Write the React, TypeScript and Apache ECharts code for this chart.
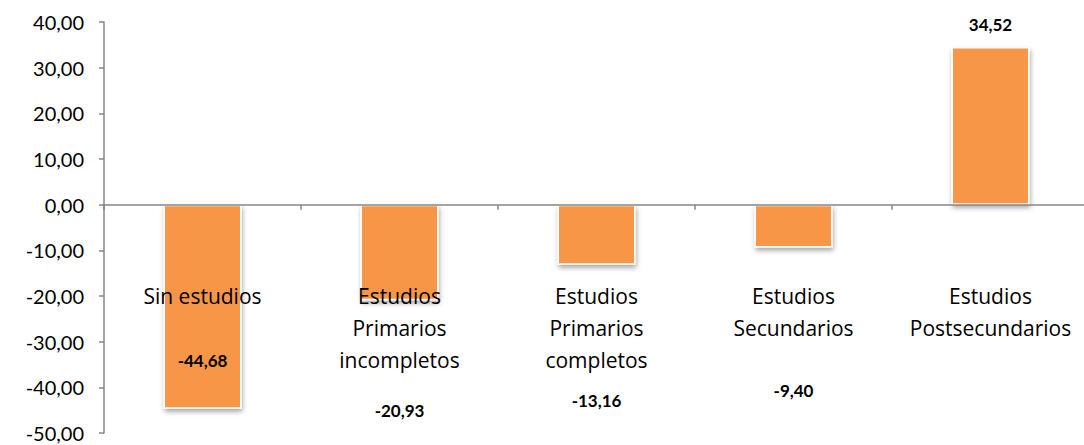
import React, { useEffect, useRef } from "react";
import * as echarts from "echarts";

const categories = [
  "Sin estudios",
  "Estudios\nPrimarios\nincompletos",
  "Estudios\nPrimarios\ncompletos",
  "Estudios\nSecundarios",
  "Estudios\nPostsecundarios",
];
const values = [-44.68, -20.93, -13.16, -9.4, 34.52];
const labelOffsets = [54, 158, 166, 164, -101];

const fmt = (v: number) => v.toFixed(2).replace(".", ",");

export default function App() {
  const ref = useRef<HTMLDivElement>(null);
  useEffect(() => {
    const chart = echarts.init(ref.current!, null, { renderer: "svg" });
    const font = "Lato, 'Open Sans', sans-serif";
    const catFont = "'Open Sans', sans-serif";
    chart.setOption({
      animation: false,
      grid: {
        left: 104,
        top: 22,
        bottom: 12,
        right: -5,
        containLabel: false,
        outerBoundsMode: "none",
      },
      xAxis: {
        type: "category",
        data: categories,
        z: 5,
        axisLine: { onZero: true, lineStyle: { color: "#868686", width: 1.5 } },
        axisTick: { show: true, length: 5, lineStyle: { color: "#868686", width: 1.5 } },
        axisLabel: {
          interval: 0,
          margin: -153,
          fontSize: 21,
          lineHeight: 32,
          color: "#000",
          fontFamily: catFont,
          verticalAlign: "top",
          hideOverlap: false,
        },
        splitLine: { show: false },
      },
      yAxis: {
        type: "value",
        min: -50,
        max: 40,
        interval: 10,
        axisLine: { show: true, lineStyle: { color: "#868686", width: 1.5 } },
        axisTick: { show: true, length: 5, lineStyle: { color: "#868686", width: 1.5 } },
        axisLabel: {
          margin: 20,
          fontSize: 20,
          color: "#000",
          fontFamily: font,
          formatter: (v: number) => fmt(v),
        },
        splitLine: { show: false },
      },
      series: [
        {
          type: "bar",
          barWidth: 78,
          data: values.map((v, i) => ({
            value: v,
            label: {
              show: true,
              position: "inside",
              offset: [0, labelOffsets[i]],
              formatter: () => fmt(v),
              fontSize: 17,
              fontWeight: "bold",
              color: "#000",
              fontFamily: font,
            },
          })),
          itemStyle: {
            color: "#F79646",
            borderColor: "#ffffff",
            borderWidth: 1.5,
            shadowBlur: 5,
            shadowOffsetX: 1,
            shadowOffsetY: 3,
            shadowColor: "rgba(0,0,0,0.35)",
          },
        },
      ],
    });
    return () => chart.dispose();
  }, []);
  return <div ref={ref} style={{ width: 1084, height: 445, position: "absolute", left: 0, top: 0 }} />;
}
